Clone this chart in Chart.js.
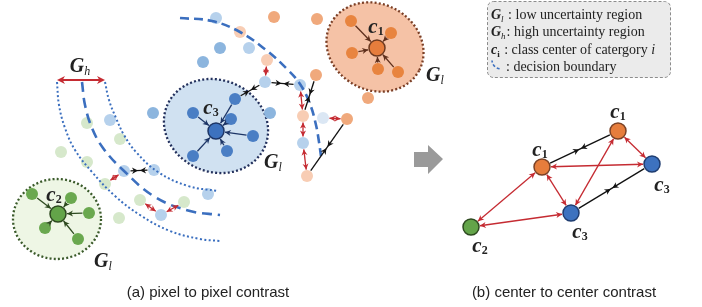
<!DOCTYPE html>
<html lang="en">
<head>
<meta charset="UTF-8">
<title>Pixel to pixel and center to center contrast</title>
<script src="https://cdn.jsdelivr.net/npm/chart.js@4.4.0/dist/chart.umd.min.js"></script>
<style>
  html, body { margin: 0; padding: 0; background: #fff; }
  #wrap { width: 702px; height: 307px; position: relative; }
</style>
</head>
<body>
<div id="wrap"><canvas id="chart"></canvas></div>
<script>
// all values, in figure units (x to the right, y downwards)

// panel (a) samples
const orangeCenter = [[377, 48]];
const orangeInner = [[351, 21], [391, 33], [352, 53], [378, 69], [398, 72]];
const orangeOuter = [[274, 17], [317, 19], [316, 75], [347, 119], [368, 98]];
const orangePale = [[240, 32], [267, 60], [303, 116], [307, 176]];

const blueCenter = [[216, 131]];
const blueInner = [[193, 113], [235, 99], [231, 119], [253, 136], [227, 151], [193, 156]];
const blueOuter = [[220, 48], [203, 62], [153, 113], [270, 113]];
const blueLight = [[216, 18], [249, 48], [265, 82], [300, 85], [303, 143], [110, 120], [124, 171], [154, 170], [208, 194], [161, 215]];
const bluePale = [[323, 118]];

const greenCenter = [[58, 214]];
const greenInner = [[32, 194], [71, 198], [89, 213], [45, 228], [78, 239]];
const greenLight = [[87, 123], [120, 139], [61, 152], [87, 162], [105, 184], [140, 200], [184, 202], [119, 218]];

// decision boundaries
const boundaryTop = [[180, 18], [212, 21], [240, 32], [266, 50], [287, 69], [300, 84], [310, 104], [316, 125], [319, 142], [321, 156]];
const boundaryLeft = [[82, 82], [85, 105], [92, 128], [103, 148], [123, 170], [155, 197], [190, 211], [220, 215]];
const gapOuter = [[57, 82], [59, 105], [65, 128], [75, 150], [92, 172], [115, 196], [140, 215], [170, 231], [200, 239], [220, 241]];
const gapInner = [[105, 82], [109, 100], [116, 118], [124, 135], [136, 152], [158, 172], [188, 186], [218, 191]];

// regions: [cx, cy, rx, ry, rotation deg]
const regionOrange = [375, 47, 50, 43, 28];
const regionBlue = [216, 126, 53, 46, 22];
const regionGreen = [57, 219, 44, 40, 0];

// panel (b) class centers
const bOrange = [[542, 167], [618, 131]];
const bBlue = [[652, 164], [571, 213]];
const bGreen = [[471, 227]];

// links: [group, index, group, index]
const pullLinks = [
  ...orangeInner.map((p, i) => ['orangeInner', i, 'orangeCenter', 0]),
  ...blueInner.map((p, i) => ['blueInner', i, 'blueCenter', 0]),
  ...greenInner.map((p, i) => ['greenInner', i, 'greenCenter', 0])
];
const attractLinks = [
  ['blueInner', 1, 'blueLight', 2],
  ['blueLight', 2, 'blueLight', 3],
  ['orangeOuter', 2, 'orangePale', 2],
  ['orangeOuter', 3, 'orangePale', 3],
  ['blueLight', 6, 'blueLight', 7],
  ['bOrange', 0, 'bOrange', 1],
  ['bBlue', 1, 'bBlue', 0]
];
const repelLinks = [
  ['orangePale', 1, 'blueLight', 2],
  ['blueLight', 3, 'orangePale', 2],
  ['orangePale', 2, 'blueLight', 4],
  ['blueLight', 4, 'orangePale', 3],
  ['bluePale', 0, 'orangeOuter', 3],
  ['blueLight', 6, 'greenLight', 4],
  ['blueLight', 9, 'greenLight', 5],
  ['blueLight', 9, 'greenLight', 6],
  ['bGreen', 0, 'bOrange', 0],
  ['bGreen', 0, 'bBlue', 1],
  ['bOrange', 0, 'bBlue', 1],
  ['bOrange', 0, 'bBlue', 0],
  ['bOrange', 1, 'bBlue', 0],
  ['bOrange', 1, 'bBlue', 1]
];

// labels: [x, y, main, sub]
const centerLabels = [[376, 27, 'c', '1'], [211, 108, 'c', '3'], [54, 195, 'c', '2'],
  [618, 112, 'c', '1'], [540, 150, 'c', '1'], [662, 185, 'c', '3'], [580, 232, 'c', '3'], [480, 246, 'c', '2']];
const regionLabels = [[80, 67, 'G', 'h'], [435, 76, 'G', 'l'], [273, 163, 'G', 'l'], [103, 262, 'G', 'l']];
const captions = [[208, 293, '(a) pixel to pixel contrast'], [564, 293, '(b) center to center contrast']];
const legendLines = [['G', 'l', ': low uncertainty region'], ['G', 'h', ': high uncertainty region'],
  ['c', 'i', ' : class center of catergory '], ['', '', ': decision boundary']];
const legendBox = [487, 1, 670, 77];
const grayArrow = [[414, 152], [428, 152], [428, 145], [443, 159], [428, 174], [428, 167], [414, 167]];

const groups = { orangeCenter, orangeInner, orangeOuter, orangePale, blueCenter, blueInner, blueOuter,
  blueLight, bluePale, greenCenter, greenInner, greenLight, bOrange, bBlue, bGreen };
const bigGroups = ['orangeCenter', 'blueCenter', 'greenCenter', 'bOrange', 'bBlue', 'bGreen'];

const RED = '#c52b32';
const BLUE_LINE = '#3b6fbf';

const pts = arr => arr.map(([x, y]) => ({ x, y }));

function dots(data, color, r) {
  return { data: pts(data), backgroundColor: color, borderWidth: 0, pointRadius: r, pointHoverRadius: r, order: 3 };
}
function node(data, color, edge) {
  return { data: pts(data), backgroundColor: color, borderColor: edge, borderWidth: 1.5, pointRadius: 8, pointHoverRadius: 8, order: 1 };
}
function curve(data, dash, width) {
  return { data: pts(data), showLine: true, tension: 0.4, pointRadius: 0, borderColor: BLUE_LINE,
    borderWidth: width, borderDash: dash, fill: false, order: 2 };
}

function head(ctx, x, y, ang, len, w) {
  ctx.beginPath();
  ctx.moveTo(x, y);
  ctx.lineTo(x - len * Math.cos(ang) + w * Math.sin(ang), y - len * Math.sin(ang) - w * Math.cos(ang));
  ctx.lineTo(x - len * Math.cos(ang) * 0.7, y - len * Math.sin(ang) * 0.7);
  ctx.lineTo(x - len * Math.cos(ang) - w * Math.sin(ang), y - len * Math.sin(ang) + w * Math.cos(ang));
  ctx.closePath();
  ctx.fill();
}

function subText(ctx, cx, cy, main, sub, mainFont, subFont, mainSize, subDrop, color) {
  ctx.font = mainFont;
  const w1 = ctx.measureText(main).width;
  ctx.font = subFont;
  const w2 = ctx.measureText(sub).width;
  const x0 = cx - (w1 + w2) / 2;
  const base = cy + mainSize * 0.27;
  ctx.fillStyle = color;
  ctx.textAlign = 'left';
  ctx.textBaseline = 'alphabetic';
  ctx.font = mainFont;
  ctx.fillText(main, x0, base);
  ctx.font = subFont;
  ctx.fillText(sub, x0 + w1, base + subDrop);
}

const diagram = {
  id: 'diagram',
  beforeDatasetsDraw(chart) {
    const ctx = chart.ctx, xs = chart.scales.x, ys = chart.scales.y;
    const px = v => xs.getPixelForValue(v), py = v => ys.getPixelForValue(v);
    // legend box
    const [x1, y1, x2, y2] = legendBox;
    ctx.save();
    ctx.beginPath();
    ctx.roundRect(px(x1) + 0.5, py(y1) + 0.5, px(x2) - px(x1), py(y2) - py(y1), 6);
    ctx.fillStyle = '#ebebeb';
    ctx.fill();
    ctx.setLineDash([3, 2]);
    ctx.strokeStyle = '#8c8c8c';
    ctx.lineWidth = 1;
    ctx.stroke();
    ctx.restore();
    // regions
    [[regionOrange, '#f5c2a6', '#7b3f26'], [regionBlue, '#d0e1f1', '#23305c'], [regionGreen, '#eef6e5', '#3a5a2a']]
      .forEach(([e, fill, edge]) => {
        ctx.save();
        ctx.beginPath();
        ctx.ellipse(px(e[0]), py(e[1]), px(e[0] + e[2]) - px(e[0]), py(e[1] + e[3]) - py(e[1]), e[4] * Math.PI / 180, 0, Math.PI * 2);
        ctx.fillStyle = fill;
        ctx.fill();
        ctx.setLineDash([2, 2.2]);
        ctx.lineWidth = 2.3;
        ctx.strokeStyle = edge;
        ctx.stroke();
        ctx.restore();
      });
    // gray arrow between panels
    ctx.save();
    ctx.beginPath();
    grayArrow.forEach(([x, y], i) => i ? ctx.lineTo(px(x), py(y)) : ctx.moveTo(px(x), py(y)));
    ctx.closePath();
    ctx.fillStyle = '#9a9a9a';
    ctx.fill();
    ctx.restore();
  },
  afterDatasetsDraw(chart) {
    const ctx = chart.ctx, xs = chart.scales.x, ys = chart.scales.y;
    const px = v => xs.getPixelForValue(v), py = v => ys.getPixelForValue(v);
    const at = (g, i) => ({ x: px(groups[g][i][0]), y: py(groups[g][i][1]), r: bigGroups.includes(g) ? 9 : 6.5 });
    const seg = (a, b) => {
      const dx = b.x - a.x, dy = b.y - a.y, d = Math.hypot(dx, dy), ux = dx / d, uy = dy / d;
      return { sx: a.x + ux * a.r, sy: a.y + uy * a.r, ex: b.x - ux * b.r, ey: b.y - uy * b.r, ang: Math.atan2(dy, dx) };
    };
    ctx.save();
    ctx.lineWidth = 1.3;
    // pulls towards class center
    const pullColor = { orangeInner: '#5e2f1c', blueInner: '#1d3566', greenInner: '#2e4a20' };
    pullLinks.forEach(([g1, i1, g2, i2]) => {
      const s = seg(at(g1, i1), at(g2, i2));
      ctx.strokeStyle = ctx.fillStyle = pullColor[g1];
      ctx.beginPath(); ctx.moveTo(s.sx, s.sy); ctx.lineTo(s.ex, s.ey); ctx.stroke();
      head(ctx, s.ex, s.ey, s.ang, 6, 3);
    });
    // same class: arrows meeting in the middle
    attractLinks.forEach(([g1, i1, g2, i2]) => {
      const s = seg(at(g1, i1), at(g2, i2));
      const mx = (s.sx + s.ex) / 2, my = (s.sy + s.ey) / 2, c = Math.cos(s.ang), n = Math.sin(s.ang);
      ctx.strokeStyle = ctx.fillStyle = '#111';
      ctx.beginPath(); ctx.moveTo(s.sx, s.sy); ctx.lineTo(s.ex, s.ey); ctx.stroke();
      head(ctx, mx - c, my - n, s.ang, 6, 3.2);
      head(ctx, mx + c, my + n, s.ang + Math.PI, 6, 3.2);
    });
    // different class: pushed apart
    repelLinks.forEach(([g1, i1, g2, i2]) => {
      const s = seg(at(g1, i1), at(g2, i2));
      ctx.strokeStyle = ctx.fillStyle = RED;
      ctx.beginPath(); ctx.moveTo(s.sx, s.sy); ctx.lineTo(s.ex, s.ey); ctx.stroke();
      head(ctx, s.ex, s.ey, s.ang, 6, 3);
      head(ctx, s.sx, s.sy, s.ang + Math.PI, 6, 3);
    });
    // gap width of the high uncertainty band
    const gx1 = px(gapOuter[0][0]), gx2 = px(gapInner[0][0]), gy = py(gapOuter[0][1]) - 2;
    ctx.lineWidth = 2.2;
    ctx.strokeStyle = ctx.fillStyle = RED;
    ctx.beginPath(); ctx.moveTo(gx1 + 5, gy); ctx.lineTo(gx2 - 5, gy); ctx.stroke();
    head(ctx, gx2, gy, 0, 8, 4);
    head(ctx, gx1, gy, Math.PI, 8, 4);
    ctx.restore();

    // labels
    ctx.save();
    centerLabels.forEach(([x, y, m, s]) =>
      subText(ctx, px(x), py(y), m, s, 'bold italic 21px "Liberation Serif"', 'bold 12px "Liberation Serif"', 21, 2, '#222'));
    regionLabels.forEach(([x, y, m, s]) =>
      subText(ctx, px(x), py(y), m, s, 'bold italic 20px "Liberation Serif"', 'italic 12px "Liberation Serif"', 20, 2.5, '#222'));
    ctx.fillStyle = '#222';
    ctx.font = '15px "Liberation Sans"';
    ctx.textAlign = 'center';
    ctx.textBaseline = 'middle';
    captions.forEach(([x, y, t]) => ctx.fillText(t, px(x), py(y)));

    // legend entries
    const lx = px(legendBox[0]) + 4;
    legendLines.forEach(([m, s, t], k) => {
      const base = py(legendBox[1]) + 18 + k * 17.3;
      ctx.textAlign = 'left';
      ctx.textBaseline = 'alphabetic';
      ctx.fillStyle = '#222';
      let x = lx;
      if (m) {
        ctx.font = 'bold italic 14px "Liberation Serif"';
        ctx.fillText(m, x, base);
        x += ctx.measureText(m).width;
        ctx.font = (m === 'G' ? 'italic' : 'bold') + ' 9px "Liberation Serif"';
        ctx.fillText(s, x, base + 3);
        x += ctx.measureText(s).width;
      } else {
        ctx.save();
        ctx.strokeStyle = BLUE_LINE;
        ctx.lineWidth = 1.6;
        ctx.setLineDash([3, 2]);
        ctx.beginPath();
        ctx.arc(x + 10, base - 11, 9, Math.PI * 0.55, Math.PI * 0.98);
        ctx.stroke();
        ctx.restore();
        x += 14;
      }
      ctx.font = '14px "Liberation Serif"';
      const text = k === 0 ? ' ' + t : t;
      ctx.fillText(text, x + 1, base);
      if (k === 2) {
        x += ctx.measureText(text).width + 1;
        ctx.font = 'italic 14px "Liberation Serif"';
        ctx.fillText('i', x, base);
      }
    });
    ctx.restore();
  }
};

new Chart(document.getElementById('chart'), {
  type: 'scatter',
  data: {
    datasets: [
      node(orangeCenter, '#e67d3c', '#6e3a20'),
      node(blueCenter, '#3d72bf', '#1d3566'),
      node(greenCenter, '#63a449', '#2e4a20'),
      node(bOrange, '#e67d3c', '#7a4226'),
      node(bBlue, '#3d72bf', '#1f3d70'),
      node(bGreen, '#63a449', '#2e4a20'),
      dots(orangeInner, '#e8843f', 6),
      dots(blueInner, '#4a7ec4', 6),
      dots(greenInner, '#6aa84f', 6),
      dots(orangeOuter, '#f0a97c', 6),
      dots(orangePale, '#f8cdb4', 6),
      dots(blueOuter, '#8cb5de', 6),
      dots(blueLight, '#b6d1ec', 6),
      dots(bluePale, '#dbe7f4', 6),
      dots(greenLight, '#d6e8cb', 6),
      curve(boundaryTop, [9, 5], 2.6),
      curve(boundaryLeft, [10, 6], 2.6),
      curve(gapOuter, [2, 2.4], 2),
      curve(gapInner, [2, 2.4], 2)
    ]
  },
  options: {
    animation: false,
    responsive: true,
    maintainAspectRatio: false,
    layout: { padding: 0, autoPadding: false },
    events: [],
    plugins: { legend: { display: false }, tooltip: { enabled: false } },
    scales: {
      x: { type: 'linear', min: 0, max: 702, display: false },
      y: { type: 'linear', min: 0, max: 307, reverse: true, display: false }
    }
  },
  plugins: [diagram]
});
</script>
</body>
</html>
